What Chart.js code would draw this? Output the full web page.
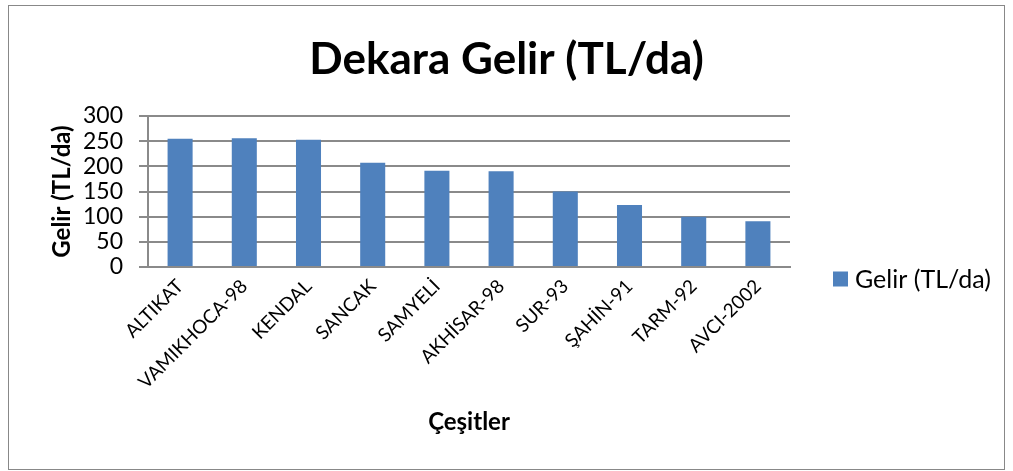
<!DOCTYPE html>
<html>
<head>
<meta charset="utf-8">
<script src="https://cdn.jsdelivr.net/npm/chart.js@4"></script>
<style>
  body { margin: 0; background: #fff; }
  #frame { position: absolute; left: 8px; top: 5px; width: 997px; height: 465px;
           border: 1px solid #888; box-sizing: border-box; }
  canvas { display: block; }
</style>
</head>
<body>
<div id="frame"><canvas id="chart" width="995" height="463"></canvas></div>
<script>
// --- DATOS ---
const categories = ['ALTIKAT', 'VAMIKHOCA-98', 'KENDAL', 'SANCAK', 'SAMYELİ',
                    'AKHİSAR-98', 'SUR-93', 'ŞAHİN-91', 'TARM-92', 'AVCI-2002'];
const gelir = [255, 256, 253, 207, 191, 190, 150, 123, 100, 91];
const yTicks = [0, 50, 100, 150, 200, 250, 300];

const seriesName = 'Gelir (TL/da)';
const barColor = '#4F81BD';
const gridColor = '#8a8a8a';

Chart.defaults.font.family = 'Lato';
Chart.defaults.color = '#000';

// Leyenda a la derecha, estilo Excel
const sideLegend = {
    id: 'sideLegend',
    afterDraw(chart) {
        const { ctx, chartArea } = chart;
        const ds = chart.data.datasets[0];
        const x = chartArea.right + 43;
        const y = chartArea.bottom + 12;
        ctx.save();
        ctx.fillStyle = ds.backgroundColor;
        ctx.fillRect(x, y - 7.5, 15, 15);
        ctx.font = '25px Lato';
        ctx.fillStyle = '#000';
        ctx.textBaseline = 'middle';
        ctx.fillText(ds.label, x + 22, y + 1);
        ctx.restore();
    }
};

new Chart(document.getElementById('chart').getContext('2d'), {
    type: 'bar',
    data: {
        labels: categories,
        datasets: [{
            label: seriesName,
            data: gelir,
            backgroundColor: barColor,
            borderWidth: 0,
            categoryPercentage: 1,
            barPercentage: 0.39
        }]
    },
    options: {
        responsive: false,
        animation: false,
        layout: { padding: 0 },
        plugins: {
            legend: { display: false },
            tooltip: { enabled: false },
            title: {
                display: true,
                text: 'Dekara Gelir (TL/da)',
                font: { size: 44, weight: 'bold' },
                color: '#000',
                padding: { top: 27.6, bottom: 29.6 }
            }
        },
        scales: {
            x: {
                grid: { display: false },
                border: { display: true, color: gridColor, width: 2 },
                ticks: { font: { size: 19 }, color: '#000', minRotation: 45, maxRotation: 45, padding: 0, autoSkip: false },
                title: {
                    display: true,
                    text: 'Çeşitler',
                    font: { size: 24, weight: 'bold' },
                    padding: { top: 0, bottom: 32.6 }
                },
                afterFit(s) { s.height = 202; }
            },
            y: {
                min: 0,
                max: 300,
                afterBuildTicks(s) { s.ticks = yTicks.map(v => ({ value: v })); },
                grid: { color: gridColor, lineWidth: 2, tickLength: 9 },
                border: { display: true, color: gridColor, width: 2 },
                ticks: { font: { size: 23 }, color: '#000', padding: 16, autoSkip: false },
                title: {
                    display: true,
                    text: seriesName,
                    font: { size: 24, weight: 'bold' },
                    padding: { top: 38.6, bottom: 0 }
                },
                afterFit(s) { s.width = 139; }
            },
            // espacio reservado para la leyenda
            y2: {
                position: 'right',
                grid: { display: false },
                border: { display: false },
                ticks: { display: false },
                afterFit(s) { s.width = 214; }
            }
        }
    },
    plugins: [sideLegend]
});
</script>
</body>
</html>
